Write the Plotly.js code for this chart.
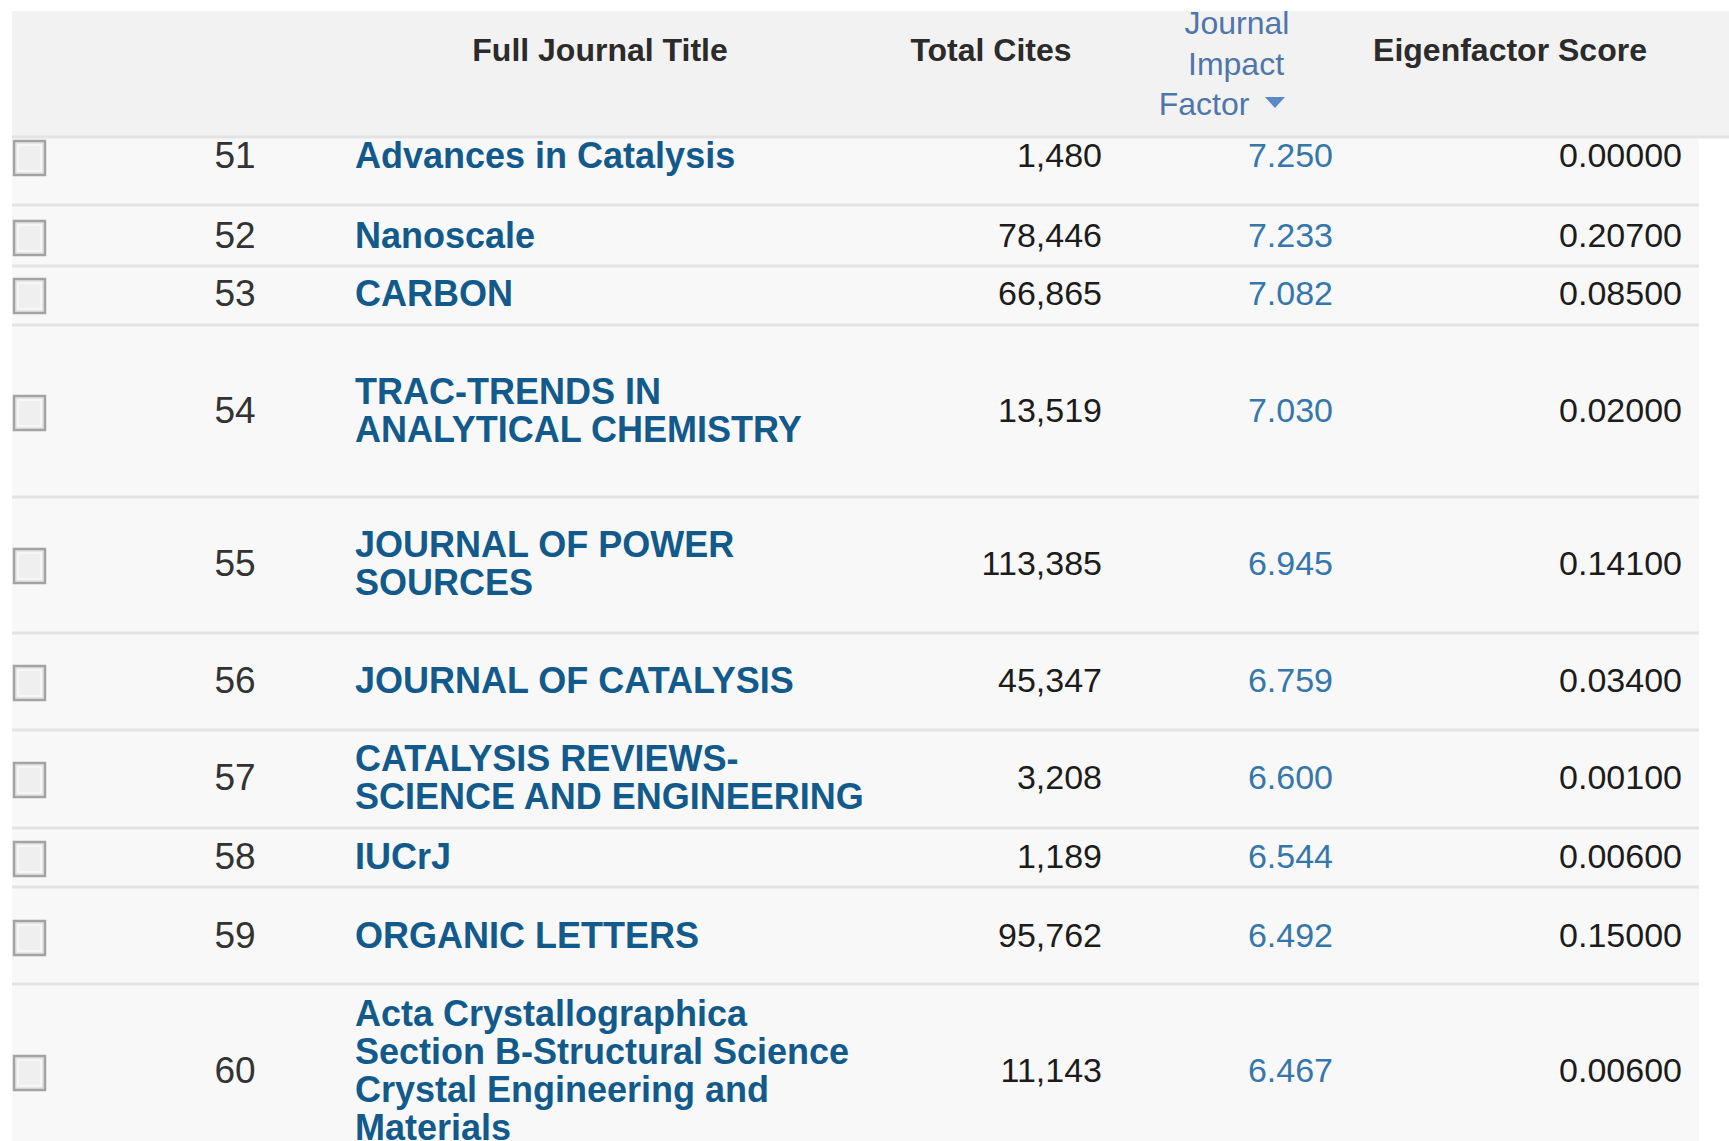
<!DOCTYPE html>
<html>
<head>
<meta charset="utf-8">
<script src="https://cdn.plot.ly/plotly-3.0.1.min.js"></script>
<style>html,body{margin:0;padding:0;background:#fff;}#chart{width:1729px;height:1141px;}</style>
</head>
<body>
<div id="chart"></div>
<script>
// ---- data ----
const headers = ["Full Journal Title", "Total Cites", "Journal Impact Factor", "Eigenfactor Score"];
const ranks = [51, 52, 53, 54, 55, 56, 57, 58, 59, 60];
const titles = [
  "Advances in Catalysis",
  "Nanoscale",
  "CARBON",
  "TRAC-TRENDS IN<br>ANALYTICAL CHEMISTRY",
  "JOURNAL OF POWER<br>SOURCES",
  "JOURNAL OF CATALYSIS",
  "CATALYSIS REVIEWS-<br>SCIENCE AND ENGINEERING",
  "IUCrJ",
  "ORGANIC LETTERS",
  "Acta Crystallographica<br>Section B-Structural Science<br>Crystal Engineering and<br>Materials"
];
const totalCites = [1480, 78446, 66865, 13519, 113385, 45347, 3208, 1189, 95762, 11143];
const impactFactor = [7.250, 7.233, 7.082, 7.030, 6.945, 6.759, 6.600, 6.544, 6.492, 6.467];
const eigenfactor = [0.00000, 0.20700, 0.08500, 0.02000, 0.14100, 0.03400, 0.00100, 0.00600, 0.15000, 0.00600];

// ---- layout (pixel geometry of the table) ----
const rowLines = [137, 205, 266, 325, 497, 633, 730, 828, 887, 984];
const rowCenter = [155, 235, 293, 410, 563, 680, 777, 856, 935, 1070];
const colX = {rank: 235, title: 355, cites: 1102, jif: 1333, eigen: 1682};
const FONT = "Liberation Sans, Arial, sans-serif";
const lineGap = 38;
const off = s => 0.108 * s; // put cap-height centre on the given y

function fmtInt(v){ return v.toLocaleString('en-US'); }

const traces = [];
const base = {type: 'scatter', mode: 'text', hoverinfo: 'skip', cliponaxis: true, showlegend: false};

// rank
traces.push(Object.assign({}, base, {
  x: ranks.map(() => colX.rank), y: rowCenter.map(c => c + off(37)),
  text: ranks.map(String), textposition: 'middle center',
  textfont: {family: FONT, size: 37, color: '#333333'}
}));
// titles (one point per wrapped line)
const tx = [], ty = [], tt = [];
titles.forEach((t, i) => {
  const lines = t.split('<br>');
  lines.forEach((ln, k) => {
    tx.push(colX.title);
    ty.push(rowCenter[i] + (k - (lines.length - 1) / 2) * lineGap + off(36));
    tt.push(ln);
  });
});
traces.push(Object.assign({}, base, {
  x: tx, y: ty, text: tt, textposition: 'middle right',
  textfont: {family: FONT, size: 36, color: '#115a8b', weight: 'bold'}
}));
// total cites
traces.push(Object.assign({}, base, {
  x: totalCites.map(() => colX.cites), y: rowCenter.map(c => c + off(34)),
  text: totalCites.map(fmtInt), textposition: 'middle left',
  textfont: {family: FONT, size: 34, color: '#1c1c1c'}
}));
// impact factor
traces.push(Object.assign({}, base, {
  x: impactFactor.map(() => colX.jif), y: rowCenter.map(c => c + off(34)),
  text: impactFactor.map(v => v.toFixed(3)), textposition: 'middle left',
  textfont: {family: FONT, size: 34, color: '#3677ab'}
}));
// eigenfactor
traces.push(Object.assign({}, base, {
  x: eigenfactor.map(() => colX.eigen), y: rowCenter.map(c => c + off(34)),
  text: eigenfactor.map(v => v.toFixed(5)), textposition: 'middle left',
  textfont: {family: FONT, size: 34, color: '#1c1c1c'}
}));
// headers
traces.push(Object.assign({}, base, {
  x: [600, 991, 1510], y: [50 + off(32), 50 + off(32), 50 + off(32)],
  text: [headers[0], headers[1], headers[3]], textposition: 'middle center',
  textfont: {family: FONT, size: 32, color: '#2b2b2b', weight: 'bold'}
}));
const jifWords = headers[2].split(' ');
traces.push(Object.assign({}, base, {
  x: [1237, 1236, 1204], y: [22.5 + off(32), 63.5 + off(32), 103.5 + off(32)],
  text: jifWords, textposition: 'middle center',
  textfont: {family: FONT, size: 32, color: '#4f76ab'}
}));

// ---- shapes ----
const shapes = [];
shapes.push({type: 'rect', layer: 'below', xref: 'x', yref: 'y', x0: 12, x1: 1729, y0: 11, y1: 137, fillcolor: '#f2f2f2', line: {width: 0}});
shapes.push({type: 'rect', layer: 'below', xref: 'x', yref: 'y', x0: 12, x1: 1699, y0: 137, y1: 1141, fillcolor: '#f8f8f8', line: {width: 0}});
rowLines.forEach((y, i) => {
  shapes.push({type: 'line', layer: 'below', xref: 'x', yref: 'y', x0: 12, x1: i === 0 ? 1729 : 1699, y0: y, y1: y, line: {color: '#e3e3e3', width: 3}});
});
// checkboxes
rowCenter.forEach(c => {
  const yc = c + 3;
  shapes.push({type: 'rect', layer: 'below', xref: 'x', yref: 'y', x0: 14, x1: 45, y0: yc - 17, y1: yc + 17, fillcolor: '#e6e6e6', line: {color: '#a3a3a3', width: 2.5}});
  shapes.push({type: 'rect', layer: 'below', xref: 'x', yref: 'y', x0: 18, x1: 41, y0: yc - 13, y1: yc + 13, fillcolor: '#efefef', line: {color: '#fafafa', width: 1.5}});
});
// sort arrow
shapes.push({type: 'path', xref: 'x', yref: 'y', path: 'M 1265 97 L 1285 97 L 1275 108 Z', fillcolor: '#5b88c6', line: {width: 0}});

const layout = {
  width: 1729, height: 1141,
  margin: {l: 0, r: 0, t: 11, b: 0, pad: 0},
  paper_bgcolor: '#ffffff', plot_bgcolor: '#ffffff',
  xaxis: {range: [0, 1729], visible: false, fixedrange: true},
  yaxis: {range: [1141, 11], visible: false, fixedrange: true},
  shapes: shapes,
  showlegend: false
};
Plotly.newPlot('chart', traces, layout, {displayModeBar: false, staticPlot: true});
</script>
</body>
</html>
